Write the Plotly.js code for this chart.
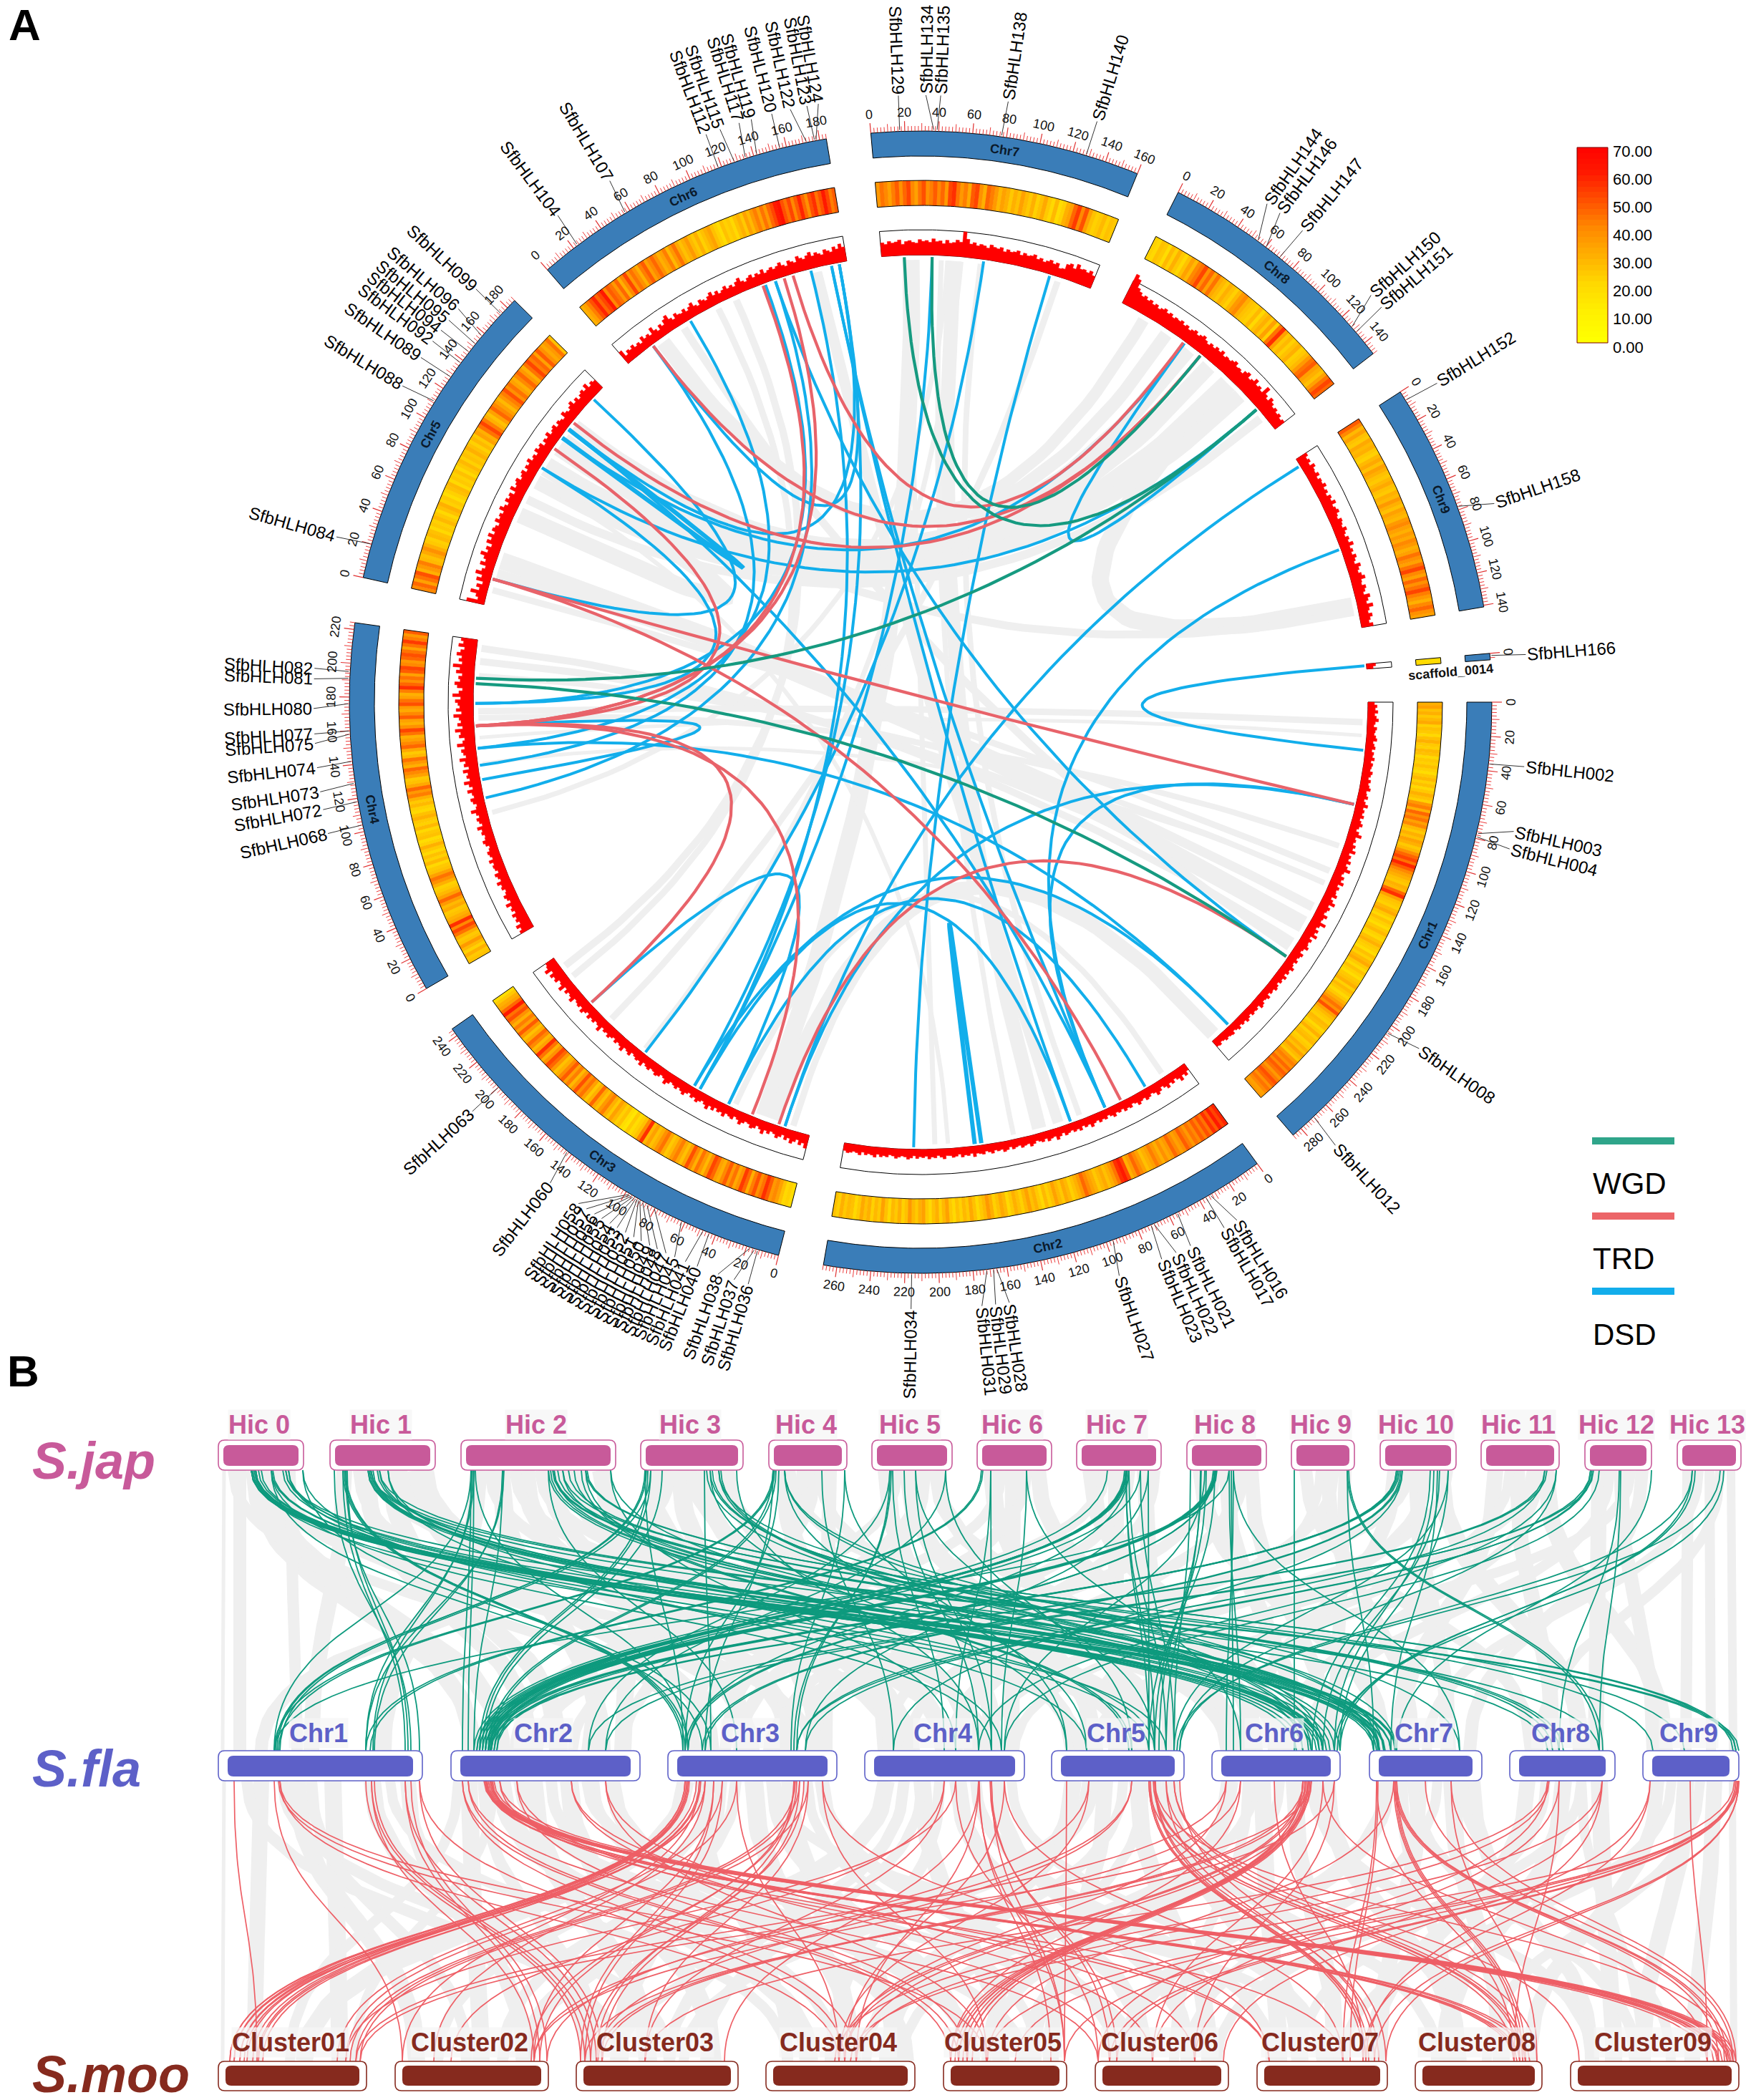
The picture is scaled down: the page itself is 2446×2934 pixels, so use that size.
<!DOCTYPE html>
<html><head><meta charset="utf-8">
<script src="https://cdn.plot.ly/plotly-3.0.1.min.js"></script>
<style>html,body{margin:0;padding:0;background:#fff}</style></head><body>
<div id="chart" style="width:2446px;height:2934px"></div>
<script>
// ---------- Panel A : circular genome ----------
const chrNames=['Chr1','Chr2','Chr3','Chr4','Chr5','Chr6','Chr7','Chr8','Chr9','scaffold_0014'];
const chrLengths=[286,268,245,224,186,184,160,148,141,3];
const chrStartDeg=[0,53.9,104.4,149.9,192.6,229.2,265,296.8,327.1,355.1];
const chrEndDeg=[49.3,99.8,145.1,188,224.7,260.5,292.3,322.4,350.4,355.75];
const heat1=[30,34,26,30,24,28,32,22,26,24,20,26,30,24,22,28,26,20,24,22,26,22,18,24,28,22,26,20,24,30,26,22,36,42,30,46,38,44,34,40,28,24,30,26,34,30,24,28,38,46,52,44,58,48,40,34,30,26,24,30,28,46,56,34,26,24,22,28,32,24,20,26,22,18,24,28,22,20,26,30,24,22,18,26,22,28,32,24,20,26,22,18,24,26,30,22,28,24,20,24,30,36,44,38,50,34,28,24,22,28,26,20,24,30,22,26,28,22,24,30,26,34,28,24,36,42,38,46,40,48,44,36,42,50,46,38,44,40,34,36];
const heat2=[58,52,60,48,56,44,50,42,48,40,44,36,42,48,38,34,40,46,36,32,38,30,36,42,34,30,26,34,40,46,36,30,52,60,56,44,36,30,26,32,28,24,30,34,40,46,36,30,26,22,28,32,24,28,34,26,22,28,20,24,30,26,34,28,22,26,30,24,20,28,32,26,22,30,36,28,24,20,26,32,24,28,22,26,20,24,34,28,22,30,26,20,24,34,30,24,28,36,26,22,30,24,28,20,26,34,24,28,22,30,26,32,24,20,26,28,24,30,22,26];
const heat3=[18,22,20,26,34,40,36,48,56,44,38,50,42,30,46,54,38,32,44,36,48,40,30,34,46,52,38,28,36,44,30,40,50,34,26,32,42,36,28,24,32,44,38,30,26,34,28,56,40,26,22,18,24,14,18,26,22,28,34,24,30,42,36,26,32,46,30,24,34,44,38,50,36,28,42,34,48,40,30,26,36,46,52,38,30,44,56,34,28,40,46,32,26,36,48,34,42,30,38,50,44,60,46,34,30,24,18];
const heat4=[26,24,30,22,28,36,26,24,30,44,52,40,56,34,30,26,24,32,28,36,46,34,28,24,22,30,38,44,34,26,24,20,28,22,26,20,24,30,22,18,26,24,20,28,22,24,30,26,20,22,28,24,30,42,36,46,32,26,24,34,40,46,30,36,44,28,24,32,46,40,34,30,44,52,38,30,34,48,40,32,36,50,44,34,30,42,56,46,38,44,34,48,52,40,36,46,50,44,34,44,54,42,36,48];
const heat5=[40,46,34,44,50,30,36,42,28,26,32,38,30,24,22,28,26,20,24,22,28,24,20,26,30,22,24,18,22,26,28,20,24,22,26,20,24,28,22,26,24,30,26,22,28,24,34,30,44,52,42,30,26,34,46,40,34,28,36,42,50,38,44,34,30,40,46,36,30,44,52,42,46,34,48,38,32,36,44,26];
const heat6=[30,34,42,50,58,46,52,60,40,48,44,36,46,30,40,52,36,44,38,30,42,48,34,40,46,38,30,34,42,28,36,44,32,26,30,36,28,24,30,22,26,30,34,26,22,18,26,22,24,20,26,30,24,34,28,36,42,34,44,36,46,52,60,64,50,44,52,40,48,58,46,38,50,56,44,50,60,52,42,48];
const heat7=[36,44,40,34,42,48,38,46,52,40,34,44,50,38,42,48,40,46,36,52,56,44,36,42,32,48,52,38,30,46,42,36,28,34,30,24,30,26,34,28,24,30,22,26,32,24,20,28,18,22,30,34,46,54,40,50,34,26,22,24,28,22,26,24];
const heat8=[22,20,26,24,18,28,22,30,24,20,26,34,28,40,44,52,38,46,34,44,32,28,24,30,26,22,28,36,40,30,26,24,22,28,20,26,30,24,34,22,44,56,34,24,28,22,26,30,22,24,28,36,44,48,34,30,26,34,44,52,46];
const heat9=[48,40,28,34,26,24,32,28,30,24,22,28,32,26,34,30,26,24,28,32,26,24,30,28,36,30,26,34,30,28,36,40,34,30,36,32,40,36,30,34,44,38,34,44,52,40,34,46,38,44,52,42,36,30,40,46,38,34];
const heatS=[18,20];
const dens1=[8,14,10,16,9,13,18,11,8,15,12,10,14,17,9,12,15,8,13,11,16,9,14,12,10,16,13,9,15,11,14,18,10,12,16,9,13,20,11,15,12,17,10,14,19,13,9,16,24,12,15,11,18,14,22,10,16,13,20,12,17,26,14,11,19,15,23,12,18,14,16,21,11,17,25,13,19,15,12,22,16,14,28,17,12,20,15,24,11,18,14,16,21,13,10,19,15,12,17,11,14,20,13,16,10,18,12,15,9,14,17,11,13,8,16,12,10,15,18,9,13,11,14,8,12,16,10,13,9,15,11,8,14,12,10,13,9,7,12,10];
const dens2=[10,18,12,22,14,9,16,11,19,13,8,15,20,12,9,14,17,10,13,18,11,8,15,12,16,9,13,10,17,12,8,14,11,15,9,12,18,10,13,8,16,11,14,9,12,15,8,13,19,10,12,16,9,14,11,8,13,17,10,12,15,9,11,14,8,13,16,10,12,9,15,11,8,14,12,10,17,9,13,11,15,8,12,14,10,9,16,12,8,13,11,15,9,12,10,14,8,13,16,11,9,12,15,10,8,13,11,14,9,16,12,10,13,8,15,11,9,12,14,10];
const dens3=[24,14,20,10,16,22,12,18,9,15,20,13,10,17,12,22,14,9,16,19,12,10,15,21,13,9,17,14,11,20,13,16,10,18,12,22,15,10,14,19,12,16,9,13,20,15,11,17,13,10,16,22,12,9,15,18,13,11,17,14,10,20,13,16,12,9,18,14,11,22,15,12,17,10,14,19,13,16,11,24,15,12,18,14,20,11,16,22,13,18,15,12,24,17,14,20,12,26,16,13,22,18,24,14,28,19,16];
const dens4=[26,20,28,16,22,18,24,14,20,16,26,13,18,22,15,12,19,16,24,13,17,21,11,16,18,14,22,12,16,19,13,10,17,21,14,12,18,15,24,11,16,20,13,18,28,15,12,19,23,14,17,26,13,20,30,16,22,18,28,14,24,20,32,17,22,26,18,34,21,16,28,24,36,19,30,22,26,38,20,32,24,28,34,22,40,26,18,30,36,24,28,20,34,26,42,22,30,24,36,28,20,34,24,30];
const dens5=[34,10,16,30,12,20,8,24,14,30,18,12,26,16,22,32,18,24,14,28,20,30,18,26,22,16,28,20,24,18,30,22,16,26,20,24,14,28,18,22,26,16,20,24,14,22,18,26,16,20,14,24,18,22,12,20,16,24,14,18,22,13,20,16,12,24,18,14,20,26,16,22,14,20,24,18,28,16,22,18];
const dens6=[26,10,18,14,20,12,16,10,22,14,18,12,26,16,10,20,14,24,30,18,12,22,16,14,20,12,18,24,14,10,20,16,12,18,24,14,20,12,16,22,14,18,12,20,26,16,12,18,22,14,20,16,24,14,18,22,16,20,26,18,14,24,20,16,28,22,18,24,30,20,26,22,18,28,24,20,30,24,34,26];
const dens7=[24,20,26,22,24,28,18,24,26,22,20,28,24,26,22,30,24,26,20,28,22,24,30,26,50,34,24,28,22,26,24,20,28,24,22,26,18,24,20,22,26,18,24,20,22,26,18,22,16,20,24,18,22,12,14,26,30,22,34,26,28,24,30,22];
const dens8=[66,58,40,34,28,32,26,30,24,28,22,26,30,24,28,22,26,24,28,22,26,20,24,28,22,26,30,24,20,26,22,28,24,30,22,26,24,28,32,24,26,22,30,34,24,28,36,26,30,24,42,28,22,32,26,20,24,18,22,16,20];
const dens9=[20,14,18,12,22,16,14,20,12,18,16,22,14,18,12,20,16,24,14,18,22,15,12,20,17,14,22,16,12,19,15,24,14,18,13,21,16,12,24,18,14,20,26,16,14,22,18,13,26,20,15,28,18,14,22,16,12,20];
const densS=[14,8];
const heatTracks=[heat1,heat2,heat3,heat4,heat5,heat6,heat7,heat8,heat9,heatS];
const densTracks=[dens1,dens2,dens3,dens4,dens5,dens6,dens7,dens8,dens9,densS];
const genes=[
['SfbHLH002',1,36,6.1],['SfbHLH003',1,77,12.3],['SfbHLH004',1,79,14],['SfbHLH008',1,205,34.8],['SfbHLH012',1,270,46.9],
['SfbHLH016',2,33,58.6],['SfbHLH017',2,36,60],['SfbHLH021',2,55,63.6],['SfbHLH022',2,70,65.1],['SfbHLH023',2,72,66.6],['SfbHLH027',2,96,70.9],['SfbHLH028',2,166,81.6],['SfbHLH029',2,168,82.9],['SfbHLH031',2,172,84.2],['SfbHLH034',2,216,90.9],
['SfbHLH036',3,13,106.5],['SfbHLH037',3,15,107.9],['SfbHLH038',3,18,109.5],['SfbHLH040',3,44,111.6],['SfbHLH041',3,48,112.8],['SfbHLH045',3,62,113.9],['SfbHLH047',3,80,114.8],['SfbHLH048',3,85,115.7],['SfbHLH049',3,88,116.5],['SfbHLH050',3,90,117.4],['SfbHLH051',3,91,118.2],['SfbHLH052',3,92,119.1],['SfbHLH053',3,93,120],['SfbHLH054',3,94,120.8],['SfbHLH055',3,95,121.7],['SfbHLH056',3,96,122.5],['SfbHLH057',3,97,123.4],['SfbHLH058',3,98,124.3],['SfbHLH060',3,143,127.6],['SfbHLH063',3,200,137.6],
['SfbHLH068',4,104,167.5],['SfbHLH072',4,118,169.8],['SfbHLH073',4,129,171.5],['SfbHLH074',4,142,173.8],['SfbHLH075',4,158,176.1],['SfbHLH077',4,160,177],['SfbHLH080',4,176,179.4],['SfbHLH081',4,191,182.2],['SfbHLH082',4,195,183.2],
['SfbHLH084',5,20,195.8],['SfbHLH088',5,111,211.4],['SfbHLH089',5,128,214.6],['SfbHLH092',5,138,216.5],['SfbHLH094',5,146,217.8],['SfbHLH095',5,152,219],['SfbHLH096',5,158,220.4],['SfbHLH099',5,175,222.9],
['SfbHLH104',6,23,233.3],['SfbHLH107',6,57,239.2],['SfbHLH112',6,118,249.3],['SfbHLH115',6,128,250.7],['SfbHLH117',6,135,252.6],['SfbHLH119',6,142,253.8],['SfbHLH120',6,156,255.8],['SfbHLH122',6,172,257.6],['SfbHLH123',6,177,259.2],['SfbHLH124',6,178,260.3],
['SfbHLH129',7,17,267.9],['SfbHLH134',7,37,270.5],['SfbHLH135',7,39,271.9],['SfbHLH138',7,77,278.3],['SfbHLH140',7,128,286.9],
['SfbHLH144',8,54,304.8],['SfbHLH146',8,60,306.3],['SfbHLH147',8,70,309],['SfbHLH150',8,128,317.9],['SfbHLH151',8,132,319.4],
['SfbHLH152',9,6,328.3],['SfbHLH158',9,78,340.9],['SfbHLH166',10,1,355.5]];
const linksWGD=[[7,17,8,128],[7,38,8,70],[4,195,8,128],[4,191,1,202]];
const linksTRD=[[1,77,5,20],[2,55,5,20],[5,128,4,159],[6,118,4,159],[6,135,4,159],[6,142,8,54],[6,23,8,70],[5,152,8,70],[4,159,3,200],[4,159,3,47],[1,202,3,25]];
const linksDSD=[[10,1,1,36],[9,6,3,20],[9,78,2,68],[1,77,2,68],[1,77,3,20],[1,269,3,97],[1,202,6,128],[4,142,1,269],[2,34,3,67],[2,96,3,92],[2,96,6,172],[2,216,7,128],[2,68,6,172],[5,146,2,68],[3,200,3,67],[3,143,7,77],[3,92,7,38],[3,92,6,156],[3,97,6,178],[4,159,4,118],[5,20,5,175],[5,111,4,176],[5,146,6,178],[5,138,8,55],[5,111,8,128],[8,55,8,128],[6,23,6,178],[6,23,4,129],[6,57,4,142],[4,104,6,128],[4,176,6,120]];
const linksThick=[[5,138,5,146],[2,165,2,170]];
const ribbons=[[9,123,8,100,24],[9,128,5,140,11],[8,40,6,30,18],[8,60,5,150,22],[8,80,5,130,22],[8,98,5,115,22],[8,112,5,100,20],[8,135,5,85,12],[5,72,5,112,22],[5,25,1,160,13],[5,12,1,130,9],[4,218,1,190,10],[4,208,1,172,10],[4,197,1,140,8],[4,165,1,110,8],[1,15,4,170,9],[1,25,4,150,5],[1,140,4,130,5],[1,175,5,35,24],[1,195,6,50,11],[4,92,7,50,7],[3,235,6,95,10],[3,225,6,80,9],[3,145,7,60,7],[3,38,7,22,24],[3,14,1,283,9],[1,282,3,30,20],[2,18,3,62,8],[2,120,7,55,20],[2,88,7,75,8],[2,190,5,100,6],[7,19,2,200,7],[7,45,2,140,7],[7,135,3,180,9],[6,160,2,105,15],[6,32,8,20,16]];
const colorbarLevels=[0,2,4,6,8,10,12,14,16,18,20,22,24,26,28,30,32,34,36,38,40,42,44,46,48,50,52,54,56,58,60,62,64,66,68,70];
const colorbarTicks=['0.00','10.00','20.00','30.00','40.00','50.00','60.00','70.00'];
const legendNames=['WGD','TRD','DSD'];
// ---------- Panel B : three-way synteny ----------
const hicNames=['Hic 0','Hic 1','Hic 2','Hic 3','Hic 4','Hic 5','Hic 6','Hic 7','Hic 8','Hic 9','Hic 10','Hic 11','Hic 12','Hic 13'];
const hicSpans=[[305,424],[461,608],[644,860],[895,1038],[1074,1183],[1218,1330],[1365,1469],[1504,1622],[1658,1769],[1804,1892],[1928,2034],[2069,2178],[2214,2307],[2343,2432]];
const flaNames=['Chr1','Chr2','Chr3','Chr4','Chr5','Chr6','Chr7','Chr8','Chr9'];
const flaSpans=[[305,590],[630,894],[933,1169],[1208,1431],[1469,1654],[1693,1872],[1913,2070],[2109,2256],[2295,2429]];
const clusterNames=['Cluster01','Cluster02','Cluster03','Cluster04','Cluster05','Cluster06','Cluster07','Cluster08','Cluster09'];
const clusterSpans=[[305,512],[552,766],[805,1031],[1070,1278],[1318,1490],[1530,1716],[1756,1938],[1977,2154],[2194,2429]];
const speciesNames=['S.jap','S.fla','S.moo'];
// hic box, offset, chr (1-based), offset
const greenLinks=[
[0,46,6,139],[0,46,6,155],[0,46,7,6],[0,46,7,14],[0,52,6,139],[0,52,7,14],[0,52,7,30],[0,52,5,136],[0,74,3,48],[0,74,6,127],[0,74,4,177],[0,94,7,38],[0,94,8,53],[0,98,6,155],[0,98,5,160],[0,118,3,60],[0,118,5,49],
[1,6,1,269],[1,18,1,261],[1,18,3,21],[1,22,1,281],[1,22,3,24],[1,53,7,14],[1,53,6,155],[1,57,7,30],[1,57,8,125],[1,57,9,130],[1,69,7,38],[1,69,9,134],[1,81,5,144],[1,81,4,191],
[2,14,1,78],[2,14,2,16],[2,18,1,206],[2,18,2,24],[2,58,2,32],[2,58,1,218],[2,122,3,96],[2,122,6,171],[2,130,7,6],[2,130,8,69],[2,142,7,14],[2,142,9,58],[2,158,6,179],[2,174,5,112],[2,174,9,130],[2,209,4,127],[2,209,6,127],
[3,6,1,82],[3,6,3,21],[3,14,2,44],[3,14,1,86],[3,30,2,48],[3,89,3,60],[3,97,5,21],[3,97,7,38],[3,109,6,139],[3,109,7,126],[3,134,4,159],
[4,6,1,78],[4,6,2,52],[4,6,3,52],[4,22,5,49],[4,22,6,155],[4,22,7,14],[4,74,4,40],[4,106,5,21],[4,106,3,172],
[5,25,3,180],[5,25,2,192],[5,29,4,111],[5,45,4,159],[5,61,4,177],[5,61,5,144],[5,103,2,216],[5,103,5,112],
[6,6,1,206],[6,19,4,127],[6,19,4,177],[6,69,4,191],[6,69,6,40],
[7,43,2,32],[7,69,2,44],[7,69,2,48],[7,69,2,52],[7,69,2,56],[7,69,5,136],[7,69,5,144],[7,73,2,48],[7,73,3,28],[7,73,5,160],[7,89,2,64],[7,89,5,171],[7,100,5,136],[7,100,3,192],
[8,5,5,171],[8,19,5,160],[8,27,5,144],[8,39,2,44],[8,39,2,48],[8,39,2,52],[8,39,2,56],[8,39,3,24],[8,39,5,136],[8,39,3,28],[8,59,6,40],[8,59,1,78],[8,65,6,20],[8,65,7,126],
[9,4,6,115],[9,78,8,125],[9,78,7,6],
[10,23,2,56],[10,23,2,64],[10,31,3,52],[10,31,4,40],[10,75,6,171],[10,83,6,155],[10,95,6,179],[10,95,5,171],
[11,89,3,180],[11,89,2,56],[11,105,4,159],[11,105,5,179],
[12,8,3,192],[12,8,2,216],[12,20,4,195],[12,48,8,69],[12,93,7,38],
[13,21,5,179],[13,21,6,179],[13,65,6,171],
[0,50,6,150],[0,48,7,10],[0,56,7,22],[0,60,6,160],[1,55,7,20],[1,60,6,165],[1,66,7,36],[2,125,7,12],[2,128,8,60],[2,135,8,75],[2,150,9,14],[3,92,6,135],[3,100,7,20],[3,112,6,150],[7,71,2,40],[7,70,2,36],[7,67,2,54],[8,37,2,36],[8,41,2,40],[8,42,2,60],[10,25,2,48],[10,27,2,52],[10,29,3,48],[12,10,3,180],[12,12,2,192],[11,92,2,60],[4,10,2,56],[4,14,3,24],[4,8,1,84],[3,10,2,40],[3,8,1,80],[5,27,3,176],[6,8,1,212],[2,20,3,28],[2,16,1,216],[1,20,3,28],[1,24,1,265],[0,76,6,118],[0,90,6,146],[2,60,1,206],[2,168,5,108],[2,176,9,126],[9,80,8,130],[13,25,6,175],[13,60,5,175],[12,50,8,125],[10,80,7,30],[10,70,6,140],[8,62,6,30],[8,20,5,150],[8,25,4,195]];
// chr (1-based), offset, cluster (1-based), offset
const redLinks=[
[1,22,1,54],[1,78,2,10],[1,86,4,102],[1,86,6,4],[1,206,3,6],[1,214,2,194],[1,214,3,12],[1,261,3,28],[1,261,2,202],[1,269,2,212],[1,281,4,110],[1,281,3,36],
[2,16,4,126],[2,16,5,10],[2,24,5,21],[2,24,6,20],[2,48,8,138],[2,48,9,191],[2,48,9,207],[2,48,9,219],[2,48,8,146],[2,56,9,207],[2,56,9,219],[2,56,9,227],[2,56,8,154],[2,68,7,120],[2,68,9,231],[2,92,7,17],[2,92,5,33],[2,168,6,80],[2,168,7,17],[2,216,5,61],[2,216,6,139],
[3,24,1,16],[3,24,1,22],[3,28,1,30],[3,28,1,16],[3,28,1,54],[3,44,1,62],[3,44,2,10],[3,52,1,30],[3,52,2,54],[3,52,1,22],[3,64,2,194],[3,64,3,6],[3,76,1,166],[3,76,3,12],[3,96,4,102],[3,96,1,178],[3,176,3,28],[3,176,2,202],[3,184,1,192],[3,184,3,36],[3,196,1,198],[3,196,3,96],[3,216,5,61],[3,216,7,17],
[4,111,2,78],[4,111,3,96],[4,127,1,178],[4,127,6,4],[4,159,3,207],[4,159,4,126],[4,159,5,169],[4,177,5,169],[4,177,6,20],[4,195,7,120],[4,195,4,110],
[5,21,5,169],[5,52,2,212],[5,52,4,102],[5,112,3,28],[5,112,2,194],[5,136,7,148],[5,136,7,152],[5,136,8,138],[5,144,8,146],[5,144,7,152],[5,144,9,227],[5,160,8,154],[5,160,7,164],[5,171,9,12],[5,171,8,170],[5,179,7,180],
[6,20,1,192],[6,20,4,110],[6,40,2,194],[6,40,5,10],[6,87,7,148],[6,127,5,21],[6,127,5,33],[6,127,4,102],[6,135,5,10],[6,135,5,21],[6,135,5,33],[6,135,3,36],[6,139,4,126],[6,139,1,198],[6,155,9,191],[6,155,6,80],[6,171,3,12],[6,171,6,139],
[7,10,7,120],[7,10,8,138],[7,34,5,61],[7,34,8,146],[7,34,9,207],[7,38,9,219],[7,38,8,154],[7,78,9,227],[7,114,9,231],[7,114,8,170],
[8,53,3,96],[8,53,6,4],[8,69,8,138],[8,69,6,80],[8,129,7,152],[8,129,4,126],[8,129,6,139],
[9,10,7,148],[9,10,6,179],[9,66,9,191],[9,130,6,20],[9,130,5,169],[9,134,7,164],[9,134,7,180],[9,134,5,61],
[2,50,8,142],[2,52,9,200],[2,54,9,212],[2,50,9,224],[2,46,9,205],[3,26,1,40],[3,30,1,48],[3,40,1,36],[3,46,1,56],[6,131,5,16],[6,133,5,27],[6,137,5,40],[6,128,3,30],[6,130,4,110],[3,178,1,184],[3,180,2,190],[3,190,3,20],[5,138,7,156],[5,142,8,150],[7,36,9,215],[7,36,8,150],[5,145,7,170],[2,58,8,160],[2,60,9,222],[9,132,6,30],[9,133,5,100],[9,128,4,118],[8,55,4,96],[7,12,7,130],[1,84,5,60],[1,218,3,20],[4,175,6,30],[4,160,5,150]];
const grayUpper=[[0,8,1,6,5],[0,30,1,30,18],[0,50,2,30,24],[0,72,2,70,26],[0,100,1,110,16],[1,20,1,130,22],[1,50,2,110,24],[1,85,2,150,26],[1,120,3,60,24],[1,135,4,40,20],[2,25,1,230,24],[2,55,2,210,26],[2,90,3,110,26],[2,125,3,170,26],[2,160,4,60,26],[2,195,4,110,24],[3,25,2,240,24],[3,55,3,210,26],[3,85,4,150,24],[3,120,5,30,22],[4,20,4,30,24],[4,50,3,30,22],[4,85,3,220,20],[5,20,4,180,24],[5,50,5,60,24],[5,90,6,30,22],[6,20,5,120,24],[6,50,4,205,22],[6,85,6,60,22],[7,20,6,90,24],[7,55,5,90,22],[7,95,5,165,22],[8,20,7,20,24],[8,55,6,120,22],[8,90,6,160,20],[9,20,8,30,18],[9,50,7,60,20],[9,75,6,170,18],[10,20,6,50,20],[10,50,7,110,22],[10,85,8,100,24],[11,20,7,40,22],[11,50,8,60,22],[11,90,9,30,24],[12,20,8,120,22],[12,50,9,15,20],[12,80,7,140,18],[13,15,9,60,16],[13,45,9,95,14],[13,75,9,126,12],[5,70,2,240,16],[6,60,3,100,18],[7,75,3,150,14],[8,70,4,120,14],[10,65,5,100,16],[3,40,1,60,18],[4,65,2,190,16],[1,70,5,110,14],[2,140,6,50,18],[0,85,3,200,14],[9,40,5,40,12],[11,70,4,210,12],
[0,20,3,40,14],[0,60,4,70,14],[1,40,3,120,16],[1,100,4,120,16],[2,40,4,170,16],[2,75,5,40,16],[2,110,5,150,16],[2,150,6,110,16],[3,15,4,60,16],[3,70,5,120,16],[3,110,6,20,16],[4,30,6,90,14],[4,70,5,170,14],[5,35,2,90,16],[5,75,3,80,16],[6,35,2,170,14],[6,70,3,30,14],[7,40,2,120,16],[7,110,4,30,14],[8,40,3,200,16],[8,80,4,60,14],[9,60,4,130,14],[10,40,3,140,14],[10,95,4,170,14],[11,40,5,130,14],[11,80,6,100,14],[12,35,6,130,14],[12,65,5,60,14],[13,30,7,80,14],[13,60,8,40,14]];
const grayLower=[[1,8,1,6,5],[1,60,1,50,22],[1,110,2,30,24],[1,160,1,170,24],[1,215,3,20,24],[1,265,2,180,22],[2,25,2,120,24],[2,70,4,60,26],[2,115,3,100,26],[2,165,3,190,26],[2,225,5,40,22],[3,25,1,120,24],[3,70,3,60,26],[3,120,4,120,26],[3,170,4,180,24],[3,215,6,30,20],[4,30,2,180,24],[4,80,5,80,24],[4,130,6,70,24],[4,185,6,130,22],[5,30,4,170,24],[5,75,5,150,22],[5,120,6,160,24],[5,165,7,60,24],[6,25,5,120,24],[6,70,7,30,24],[6,115,7,110,24],[6,160,8,60,24],[7,25,6,40,22],[7,70,7,170,22],[7,115,8,120,24],[7,145,9,30,20],[8,25,7,160,22],[8,75,8,40,24],[8,125,9,60,24],[9,20,8,160,20],[9,60,9,100,24],[9,100,9,170,22],[9,125,9,228,10],[7,60,9,90,16],[4,80,3,180,14],[5,130,5,60,14],[6,60,4,190,14],[3,60,2,60,14],[2,60,1,190,12],[3,150,7,100,14],[2,200,4,200,14],[5,60,3,150,14],[8,100,6,170,14],
[1,40,3,60,16],[1,90,3,130,16],[1,130,2,100,16],[1,240,4,30,14],[2,45,3,30,16],[2,95,5,110,16],[2,140,4,100,16],[2,190,6,60,16],[3,45,4,30,16],[3,95,2,150,16],[3,145,5,30,16],[3,195,5,130,14],[4,55,3,130,16],[4,105,4,90,16],[4,155,7,20,16],[4,205,7,90,14],[5,50,3,60,14],[5,100,4,140,14],[5,145,8,30,16],[6,50,6,110,14],[6,95,5,60,14],[6,140,9,30,16],[7,45,8,60,16],[7,95,6,130,14],[7,130,9,140,14],[8,50,7,60,14],[8,100,9,100,14],[9,40,7,120,14],[9,80,8,100,14],[2,10,1,100,14]];

// ---------- geometry helpers ----------
const CX=1286,CY=981,RAD=Math.PI/180,DENS_SCALE=0.62;
const deg=(c,mb)=>chrStartDeg[c-1]+(chrEndDeg[c-1]-chrStartDeg[c-1])*mb/chrLengths[c-1];
const pol=(a,r)=>[CX+r*Math.cos(a*RAD),CY+r*Math.sin(a*RAD)];
const traces=[];
const add=(x,y,o)=>traces.push(Object.assign({x,y,type:'scatter',mode:'lines',hoverinfo:'skip',showlegend:false},o));
const scale=[[0,'#FFFF00'],[0.14,'#FFF000'],[0.29,'#FFD800'],[0.43,'#FFB000'],[0.57,'#FF8A00'],[0.71,'#FF5200'],[0.86,'#FF1800'],[1,'#FF0000']];
function rgbOf(h){return [1,3,5].map(i=>parseInt(h.substr(i,2),16));}
function colorAt(v){const t=Math.max(0,Math.min(1,v/70));for(let i=1;i<scale.length;i++){if(t<=scale[i][0]){const f=(t-scale[i-1][0])/(scale[i][0]-scale[i-1][0]);const a=rgbOf(scale[i-1][1]),b=rgbOf(scale[i][1]);return 'rgb('+a.map((q,k)=>Math.round(q+(b[k]-q)*f)).join(',')+')';}}return '#FF0000';}
function arcPts(a0,a1,r,xs,ys){const n=Math.max(1,Math.ceil(Math.abs(a1-a0)/0.5));for(let i=0;i<=n;i++){const p=pol(a0+(a1-a0)*i/n,r);xs.push(p[0]);ys.push(p[1]);}}
function closedSector(a0,a1,r0,r1){const xs=[],ys=[];arcPts(a0,a1,r1,xs,ys);arcPts(a1,a0,r0,xs,ys);xs.push(xs[0]);ys.push(ys[0]);return [xs,ys];}
function bezier(a,ma,b,mb,r){const A=pol(deg(a,ma),r),B=pol(deg(b,mb),r),xs=[],ys=[];for(let i=0;i<=48;i++){const t=i/48,u=1-t;xs.push(u*u*A[0]+2*u*t*CX+t*t*B[0]);ys.push(u*u*A[1]+2*u*t*CY+t*t*B[1]);}return [xs,ys];}
function gather(list,fn,opts){const X=[],Y=[];list.forEach(l=>{const p=fn(l);X.push(...p[0],null);Y.push(...p[1],null);});add(X,Y,opts);}
const tangent=a=>{let t=a-90;while(t>90)t-=180;while(t<=-90)t+=180;return t;};

// --- panel B gray
const sig=(x0,y0,x1,y1)=>{const xs=[],ys=[],ym=(y0+y1)/2;for(let i=0;i<=40;i++){const t=i/40,u=1-t;xs.push(u*u*u*x0+3*u*u*t*x0+3*u*t*t*x1+t*t*t*x1);ys.push(u*u*u*y0+3*u*u*t*ym+3*u*t*t*ym+t*t*t*y1);}return [xs,ys];};
const HB=2054,FT=2446,FB=2488,CT=2880,GRAY='#EFEFEF';
grayUpper.forEach(g=>{const p=sig(hicSpans[g[0]][0]+g[1],HB,flaSpans[g[2]-1][0]+g[3],FT);add(p[0],p[1],{line:{color:GRAY,width:g[4]}});});
grayLower.forEach(g=>{const p=sig(flaSpans[g[0]-1][0]+g[1],FB,clusterSpans[g[2]-1][0]+g[3],CT);add(p[0],p[1],{line:{color:GRAY,width:g[4]}});});
gather(greenLinks,l=>sig(hicSpans[l[0]][0]+l[1],HB,flaSpans[l[2]-1][0]+l[3],FT),{line:{color:'#0E9A7E',width:1.8}});
gather(redLinks,l=>sig(flaSpans[l[0]-1][0]+l[1],FB,clusterSpans[l[2]-1][0]+l[3],CT),{line:{color:'#EE5F66',width:1.7}});

// --- panel A ribbons and links
ribbons.forEach(g=>{const p=bezier(g[0],g[1],g[2],g[3],618);add(p[0],p[1],{line:{color:GRAY,width:g[4]}});});
gather(linksDSD,l=>bezier(l[0],l[1],l[2],l[3],622),{line:{color:'#12AEEB',width:4}});
gather(linksThick,l=>bezier(l[0],l[1],l[2],l[3],622),{line:{color:'#12AEEB',width:6}});
gather(linksTRD,l=>bezier(l[0],l[1],l[2],l[3],622),{line:{color:'#E8636A',width:4.2}});
gather(linksWGD,l=>bezier(l[0],l[1],l[2],l[3],622),{line:{color:'#169A80',width:4.2}});

// --- rings
const annots=[];
chrNames.forEach((name,i)=>{
 const a0=chrStartDeg[i],a1=chrEndDeg[i];
 let s=closedSector(a0,a1,763,798);
 add(s[0],s[1],{fill:'toself',fillcolor:'#3A7DB8',line:{color:'#000',width:1}});
 s=closedSector(a0,a1,625,660);
 add(s[0],s[1],{fill:'toself',fillcolor:'#fff',line:{color:'#000',width:1}});
 const d=densTracks[i],xs=[],ys=[];
 d.forEach((v,k)=>{const b0=a0+(a1-a0)*k/d.length,b1=a0+(a1-a0)*(k+1)/d.length,h=625+4+v*DENS_SCALE;const p=pol(b0,h),q=pol(b1,h);xs.push(p[0],q[0]);ys.push(p[1],q[1]);});
 arcPts(a1,a0,625,xs,ys);xs.push(xs[0]);ys.push(ys[0]);
 add(xs,ys,{fill:'toself',fillcolor:'#FF0000',line:{color:'#FF0000',width:0.5}});
});
const buckets={};
heatTracks.forEach((h,i)=>{const a0=chrStartDeg[i],a1=chrEndDeg[i];h.forEach((v,k)=>{const q=Math.round(v/2)*2;(buckets[q]=buckets[q]||{x:[],y:[]});const b0=a0+(a1-a0)*k/h.length,b1=Math.min(a1,a0+(a1-a0)*(k+1)/h.length+0.04);const s=closedSector(b0,b1,694,729);buckets[q].x.push(...s[0],null);buckets[q].y.push(...s[1],null);});});
Object.keys(buckets).forEach(q=>add(buckets[q].x,buckets[q].y,{fill:'toself',fillcolor:colorAt(+q),line:{width:0,color:colorAt(+q)}}));
chrNames.forEach((n,i)=>{const s=closedSector(chrStartDeg[i],chrEndDeg[i],694,729);add(s[0],s[1],{line:{color:'#000',width:1}});});
// ticks
const tx=[],ty=[],Tx=[],Ty=[];
chrNames.forEach((n,i)=>{for(let m=0;m<=chrLengths[i];m+=2){const a=deg(i+1,m),maj=m%20===0,mid=m%10===0;const r2=maj?812:mid?809:805;const p=pol(a,798),q=pol(a,r2);const X=maj?Tx:tx,Y=maj?Ty:ty;X.push(p[0],q[0],null);Y.push(p[1],q[1],null);
 if(maj){const c=pol(a,824);annots.push({x:c[0],y:c[1],text:String(m),textangle:tangent(a),font:{size:18,color:'#111',family:'Liberation Sans'}});}}});
add(tx,ty,{line:{color:'#EC3B3B',width:1}});add(Tx,Ty,{line:{color:'#E03030',width:1.2}});
// gene labels
const lx=[],ly=[];
genes.forEach(g=>{const a=g[3],p=pol(deg(g[1],g[2]),800),q=pol(a,848);lx.push(p[0],q[0],null);ly.push(p[1],q[1],null);const c=pol(a,850+62);let ta=a>90&&a<=270?a-180:(a>270?a-360:a);annots.push({x:c[0],y:c[1],text:g[0],textangle:ta,font:{size:24,color:'#000',family:'Liberation Sans'}});});
add(lx,ly,{line:{color:'#333',width:1}});
chrNames.slice(0,9).forEach((n,i)=>{const a=(chrStartDeg[i]+chrEndDeg[i])/2,c=pol(a,780);annots.push({x:c[0],y:c[1],text:'<b>'+n+'</b>',textangle:tangent(a),font:{size:18,color:'#0b1a2b',family:'Liberation Sans'}});});
annots.push({x:2026,y:939,text:'<b>scaffold_0014</b>',textangle:-5,font:{size:18,color:'#111',family:'Liberation Sans'}});
// colour bar
const cbEdges=colorbarLevels.map(v=>479-v/70*273);
traces.push({type:'heatmap',x:[2203,2246],y:[...cbEdges,206],z:colorbarLevels.map(v=>[v]),zmin:0,zmax:70,colorscale:scale,showscale:false,hoverinfo:'skip'});
add([2203,2246,2246,2203,2203],[479,479,206,206,479],{line:{color:'#7a0000',width:1}});
colorbarTicks.forEach(t=>{annots.push({x:2252,y:485-parseFloat(t)/70*274,xanchor:'left',text:t,font:{size:22,color:'#000',family:'Liberation Sans'}});});
// legend
const legendColors=['#2FA58A','#EC6568','#12ADEB'],legendBarY=[1594,1699,1804],legendTextY=[1653,1758,1864];
legendNames.forEach((n,i)=>{add([2224,2339],[legendBarY[i],legendBarY[i]],{line:{color:legendColors[i],width:10}});annots.push({x:2224,y:legendTextY[i],xanchor:'left',text:n,font:{size:42,color:'#000',family:'Liberation Sans'}});});
annots.push({x:34,y:34,text:'<b>A</b>',font:{size:62,color:'#000',family:'Liberation Sans'}});
annots.push({x:32,y:1915,text:'<b>B</b>',font:{size:62,color:'#000',family:'Liberation Sans'}});
// boxes
const shapes=[];
const round=(x0,y0,x1,y1,r)=>`M${x0+r},${y0}L${x1-r},${y0}Q${x1},${y0} ${x1},${y0+r}L${x1},${y1-r}Q${x1},${y1} ${x1-r},${y1}L${x0+r},${y1}Q${x0},${y1} ${x0},${y1-r}L${x0},${y0+r}Q${x0},${y0} ${x0+r},${y0}Z`;
function boxes(spans,names,y0,y1,iy0,iy1,labelY,col,inset){spans.forEach((s,i)=>{
 shapes.push({type:'path',path:round(s[0],y0,s[1],y1,9),fillcolor:'#fff',line:{color:col,width:1.6},layer:'above',xref:'x',yref:'y'});
 shapes.push({type:'path',path:round(s[0]+inset,iy0,s[1]-inset,iy1,8),fillcolor:col,line:{width:0},layer:'above',xref:'x',yref:'y'});
 annots.push({x:(s[0]+s[1])/2-3,y:labelY,text:'<b>'+names[i]+'</b>',bgcolor:'rgba(246,246,246,0.75)',font:{size:36,color:col,family:'Liberation Sans'}});
});}
const COL_J='#C85A9A',COL_F='#5D60C8',COL_M='#862A1E';
boxes(hicSpans,hicNames,2012,2054,2019,2048,1990,COL_J,7);
boxes(flaSpans,flaNames,2446,2488,2453,2482,2421,COL_F,13);
boxes(clusterSpans,clusterNames,2880,2921,2886,2914,2853,COL_M,10);
const spY=[2041,2471,2898],spC=[COL_J,COL_F,COL_M];
speciesNames.forEach((n,i)=>annots.push({x:44,y:spY[i],xanchor:'left',text:'<b><i>'+n+'</i></b>',font:{size:72,color:spC[i],family:'Liberation Sans'}}));
annots.forEach(a=>{a.xref='x';a.yref='y';a.showarrow=false;a.xanchor=a.xanchor||'center';a.yanchor='middle';a.borderpad=0;});
Plotly.newPlot('chart',traces,{width:2446,height:2934,margin:{l:0,r:0,t:0,b:0},paper_bgcolor:'#fff',plot_bgcolor:'#fff',showlegend:false,
 xaxis:{range:[0,2446],visible:false,fixedrange:true},yaxis:{range:[2934,0],visible:false,fixedrange:true},annotations:annots,shapes},{staticPlot:true});
</script></body></html>
